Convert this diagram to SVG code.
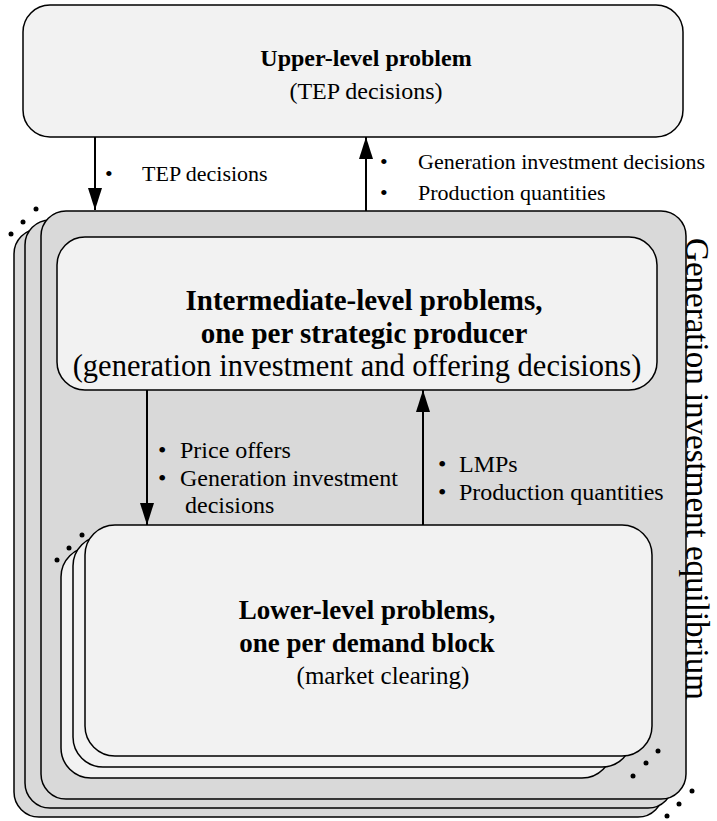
<svg xmlns="http://www.w3.org/2000/svg" width="717" height="821" viewBox="0 0 717 821">
<style>
.box{stroke:#000;stroke-width:1.5}
.g{fill:#d9d9d9}
.l{fill:#f2f2f2}
text{font-family:"Liberation Serif","Times New Roman",serif;fill:#000}
.t{text-anchor:middle}
.b{font-weight:bold}
.t1{font-size:24px}
.t2{font-size:29px}
.t2r{font-size:30.5px}
.t3{font-size:27px}
.t3r{font-size:25px}
.lab1{font-size:22px}
.lab2{font-size:24px}
.dot{fill:#000}
.ln{stroke:#000;stroke-width:2;fill:none}
</style>
<defs>
<marker id="arr" markerUnits="userSpaceOnUse" markerWidth="22" markerHeight="14" viewBox="0 0 22 14" refX="22" refY="7" orient="auto">
<path d="M0,0 L22,7 L0,14 Z" fill="#000"/>
</marker>
</defs>
<rect width="717" height="821" fill="#fff"/>

<g id="upper">
<rect class="box l" x="23" y="5" width="660" height="132" rx="27"/>
<text class="t t1 b" x="366" y="66">Upper-level problem</text>
<text class="t t1" x="366" y="99">(TEP decisions)</text>
</g>

<g id="equilibrium">
<rect class="box g" x="14" y="229" width="649" height="588" rx="25"/>
<rect class="box g" x="25" y="220" width="648" height="588" rx="25"/>
<rect class="box g" x="41" y="211" width="645" height="588" rx="25"/>
<circle class="dot" cx="11" cy="234" r="2.5"/>
<circle class="dot" cx="23" cy="222" r="2.5"/>
<circle class="dot" cx="36" cy="209" r="2.5"/>
<circle class="dot" cx="667" cy="816" r="2.5"/>
<circle class="dot" cx="679" cy="804" r="2.5"/>
<circle class="dot" cx="692" cy="791" r="2.5"/>
<text font-size="33" text-anchor="middle" transform="translate(686,469) rotate(90)">Generation investment equilibrium</text>
</g>

<g id="intermediate">
<rect class="box l" x="57" y="237" width="600" height="153" rx="28"/>
<text class="t t2 b" x="364" y="310">Intermediate-level problems,</text>
<text class="t t2 b" x="364" y="343">one per strategic producer</text>
<text class="t t2r" x="357" y="376">(generation investment and offering decisions)</text>
</g>

<g id="lower">
<rect class="box l" x="61" y="547" width="551" height="231" rx="30"/>
<rect class="box l" x="73" y="536" width="559" height="231" rx="30"/>
<rect class="box l" x="85" y="525" width="567" height="231" rx="30"/>
<circle class="dot" cx="57" cy="560" r="2.5"/>
<circle class="dot" cx="69" cy="548" r="2.5"/>
<circle class="dot" cx="82" cy="535" r="2.5"/>
<circle class="dot" cx="633" cy="776" r="2.5"/>
<circle class="dot" cx="646" cy="763" r="2.5"/>
<circle class="dot" cx="658" cy="751" r="2.5"/>
<text class="t t3 b" x="367" y="619">Lower-level problems,</text>
<text class="t t3 b" x="367" y="652">one per demand block</text>
<text class="t t3r" x="383" y="684">(market clearing)</text>
</g>

<g id="connectors">
<line class="ln" x1="95" y1="137" x2="95" y2="210" marker-end="url(#arr)"/>
<line class="ln" x1="366" y1="211" x2="366" y2="137" marker-end="url(#arr)"/>
<line class="ln" x1="147" y1="390" x2="147" y2="525" marker-end="url(#arr)"/>
<line class="ln" x1="423" y1="525" x2="423" y2="390" marker-end="url(#arr)"/>
<g class="lab1">
<text x="105" y="181">•</text><text x="142" y="181">TEP decisions</text>
<text x="380" y="169">•</text><text x="418" y="169">Generation investment decisions</text>
<text x="380" y="200">•</text><text x="418" y="200">Production quantities</text>
</g>
<g class="lab2">
<text x="158" y="458">•</text><text x="180" y="458">Price offers</text>
<text x="158" y="486">•</text><text x="180" y="486">Generation investment</text>
<text x="185" y="513">decisions</text>
<text x="438" y="472">•</text><text x="459" y="472">LMPs</text>
<text x="438" y="500">•</text><text x="459" y="500">Production quantities</text>
</g>
</g>
</svg>
